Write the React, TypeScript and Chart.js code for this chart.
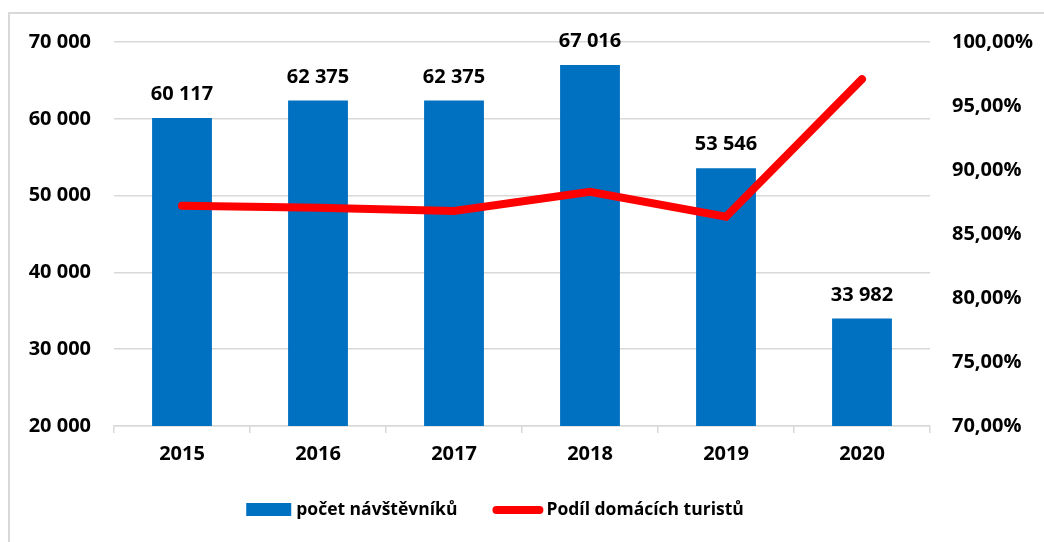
import React, { useEffect, useRef } from "react";
import { Chart, registerables } from "chart.js";

Chart.register(...registerables);

const years = ["2015", "2016", "2017", "2018", "2019", "2020"];
const visitors = [60117, 62375, 62375, 67016, 53546, 33982];
const domesticShare = [87.2, 87.05, 86.8, 88.3, 86.35, 97.1];
const visitorTicks = [20000, 30000, 40000, 50000, 60000, 70000];
const shareTicks = [70, 75, 80, 85, 90, 95, 100];
const barLabel = "počet návštěvníků";
const lineLabel = "Podíl domácích turistů";

const FONT = "'Open Sans', Lato, 'DejaVu Sans', sans-serif";
const BLUE = "#0070C0";
const RED = "#FF0000";
const GRID = "#d9d9d9";

const fmtNum = (v: number) => String(Math.round(v)).replace(/\B(?=(\d{3})+(?!\d))/g, " ");
const fmtPct = (v: number) => Number(v).toFixed(2).replace(".", ",") + "%";

const dataLabels = {
  id: "dataLabels",
  afterDatasetsDraw(chart: any) {
    const meta = chart.getDatasetMeta(0);
    const ctx = chart.ctx;
    ctx.save();
    ctx.font = `bold 20px ${FONT}`;
    ctx.fillStyle = "#000";
    ctx.textAlign = "center";
    ctx.textBaseline = "alphabetic";
    meta.data.forEach((el: any, i: number) => {
      ctx.fillText(fmtNum(visitors[i]), el.x, el.y - 18);
    });
    ctx.restore();
  },
};

const customLegend = {
  id: "customLegend",
  afterDraw(chart: any) {
    const ctx = chart.ctx;
    ctx.save();
    ctx.font = `bold 17.5px ${FONT}`;
    const w1 = ctx.measureText(barLabel).width;
    const w2 = ctx.measureText(lineLabel).width;
    const box = 45, gapT = 5, gapItem = 35, lineW = 51, gapT2 = 3;
    const total = box + gapT + w1 + gapItem + lineW + gapT2 + w2;
    const ca = chart.chartArea;
    let x = (ca.left + ca.right) / 2 - 27 - total / 2;
    const cy = ca.bottom + 84;
    ctx.fillStyle = BLUE;
    ctx.fillRect(x, cy - 7, box, 13);
    x += box + gapT;
    ctx.fillStyle = "#000";
    ctx.textBaseline = "middle";
    ctx.textAlign = "left";
    ctx.fillText(barLabel, x, cy);
    x += w1 + gapItem;
    ctx.strokeStyle = RED;
    ctx.lineWidth = 8;
    ctx.lineCap = "round";
    ctx.beginPath();
    ctx.moveTo(x + 4, cy);
    ctx.lineTo(x + lineW - 4, cy);
    ctx.stroke();
    x += lineW + gapT2;
    ctx.fillText(lineLabel, x, cy);
    ctx.restore();
  },
};

const noPad = (s: any, w: number) => {
  s.width = w;
  s.paddingTop = 0;
  s.paddingBottom = 0;
};

export default function App() {
  const ref = useRef<HTMLCanvasElement>(null);

  useEffect(() => {
    if (!ref.current) return;
    const font = { family: FONT, size: 20, weight: "bold" as const };
    const chart = new Chart(ref.current, {
      type: "bar",
      data: {
        labels: years,
        datasets: [
          {
            type: "bar",
            label: barLabel,
            data: visitors,
            backgroundColor: BLUE,
            borderWidth: 0,
            barPercentage: 0.44,
            categoryPercentage: 1,
            yAxisID: "y",
            order: 1,
          } as any,
          {
            type: "line",
            label: lineLabel,
            data: domesticShare,
            borderColor: RED,
            backgroundColor: RED,
            borderWidth: 8,
            pointRadius: 0,
            tension: 0,
            borderCapStyle: "round",
            borderJoinStyle: "miter",
            yAxisID: "y1",
            order: 0,
          } as any,
        ],
      },
      options: {
        animation: false,
        responsive: false,
        layout: { padding: { top: 28, bottom: 66, left: 0, right: 0 } },
        plugins: { legend: { display: false }, tooltip: { enabled: false } },
        scales: {
          x: {
            offset: true,
            grid: {
              offset: true,
              drawOnChartArea: false,
              drawTicks: true,
              tickLength: 7,
              color: GRID,
              lineWidth: 1.5,
            },
            border: { display: true, color: GRID, width: 1.5 },
            ticks: { font, color: "#000", padding: 9 },
            afterFit: (s: any) => {
              s.height = 50;
            },
          },
          y: {
            position: "left",
            min: visitorTicks[0],
            max: visitorTicks[visitorTicks.length - 1],
            afterBuildTicks: (s: any) => {
              s.ticks = visitorTicks.map((v) => ({ value: v }));
            },
            ticks: { font, color: "#000", padding: 23, callback: (v: any) => fmtNum(v) },
            grid: { color: GRID, lineWidth: 1.5, drawTicks: false },
            border: { display: false },
            afterFit: (s: any) => noPad(s, 104),
          },
          y1: {
            position: "right",
            min: shareTicks[0],
            max: shareTicks[shareTicks.length - 1],
            afterBuildTicks: (s: any) => {
              s.ticks = shareTicks.map((v) => ({ value: v }));
            },
            ticks: { font, color: "#000", padding: 22, callback: (v: any) => fmtPct(v) },
            grid: { display: false, drawTicks: false },
            border: { display: false },
            afterFit: (s: any) => noPad(s, 114),
          },
        },
      } as any,
      plugins: [dataLabels, customLegend],
    });
    return () => chart.destroy();
  }, []);

  return (
    <div
      style={{
        position: "absolute",
        left: 8,
        top: 12,
        borderTop: `2px solid ${GRID}`,
        borderLeft: `2px solid ${GRID}`,
        width: 1034,
        height: 528,
        background: "#fff",
      }}
    >
      <canvas ref={ref} width={1034} height={528} style={{ display: "block" }} />
    </div>
  );
}
